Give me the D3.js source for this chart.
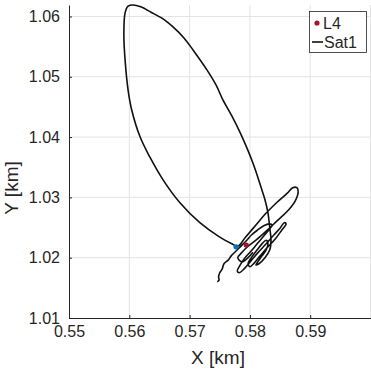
<!DOCTYPE html>
<html>
<head>
<meta charset="utf-8">
<script src="https://cdn.jsdelivr.net/npm/d3@7"></script>
<style>
    body { margin: 0; background: #fff; }
    text { font-family: "Liberation Sans", Arial, Helvetica, sans-serif; fill: #262626; }
</style>
</head>
<body>
<div id="chart"></div>
<script>
// trajectory of Sat1 (km)
let satX = [
    0.5746, 0.5749, 0.5748, 0.5750, 0.5754, 0.5757, 0.5764, 0.5769, 0.5775, 0.5784, 0.5794,
    0.5803, 0.5813, 0.5823, 0.5832, 0.5837, 0.5833, 0.5823, 0.5812, 0.5802, 0.5792,
    0.5784, 0.5779, 0.5782, 0.5790, 0.5802, 0.5813, 0.5827, 0.5840, 0.5850, 0.5857,
    0.5860, 0.5853, 0.5842, 0.5828, 0.5817, 0.5807, 0.5800, 0.5797, 0.5803, 0.5812,
    0.5820, 0.5827, 0.5830, 0.5827, 0.5820, 0.5813, 0.5810, 0.5815, 0.5825, 0.5833,
    0.5835, 0.5833, 0.5830, 0.5825, 0.5820, 0.5813, 0.5805, 0.5795, 0.5784, 0.5770,
    0.5755, 0.5744, 0.5729, 0.5706, 0.5691, 0.5672, 0.5656, 0.5636, 0.5619, 0.5606,
    0.5598, 0.5593, 0.5591, 0.5593, 0.5598, 0.5604, 0.5618, 0.5634, 0.5656, 0.5684,
    0.5717, 0.5750, 0.5770, 0.5780, 0.5792, 0.5809, 0.5827, 0.5845, 0.5862, 0.5871,
    0.5878, 0.5880, 0.5875, 0.5862, 0.5845, 0.5827, 0.5810, 0.5797, 0.5787, 0.5780,
    0.5787, 0.5797, 0.5805
];
let satY = [
    1.0160, 1.0163, 1.0168, 1.0175, 1.0181, 1.0190, 1.0196, 1.0203, 1.0209, 1.0218, 1.0228,
    1.0238, 1.0246, 1.0253, 1.0256, 1.0254, 1.0248, 1.0236, 1.0223, 1.0211, 1.0200,
    1.0188, 1.0178, 1.0175, 1.0181, 1.0195, 1.0208, 1.0223, 1.0238, 1.0249, 1.0258,
    1.0256, 1.0246, 1.0231, 1.0216, 1.0203, 1.0191, 1.0185, 1.0190, 1.0201, 1.0213,
    1.0223, 1.0229, 1.0224, 1.0213, 1.0203, 1.0193, 1.0188, 1.0190, 1.0200, 1.0213,
    1.0229, 1.0249, 1.0274, 1.0296, 1.0312, 1.0334, 1.0357, 1.0382, 1.0407, 1.0435,
    1.0462, 1.0486, 1.0511, 1.0544, 1.0564, 1.0583, 1.0596, 1.0607, 1.0616, 1.0619,
    1.0617, 1.0606, 1.0569, 1.0528, 1.0478, 1.0445, 1.0400, 1.0367, 1.0329, 1.0291,
    1.0258, 1.0234, 1.0223, 1.0219, 1.0233, 1.0253, 1.0274, 1.0292, 1.0307, 1.0316,
    1.0316, 1.0309, 1.0294, 1.0277, 1.0261, 1.0244, 1.0229, 1.0219, 1.0209, 1.0200,
    1.0193, 1.0200, 1.0209
];
let l4 = { x: 0.5794, y: 1.0221 };
let startPt = { x: 0.5777, y: 1.0218 };

let xTicks = [0.55, 0.56, 0.57, 0.58, 0.59];
let yTicks = [1.01, 1.02, 1.03, 1.04, 1.05, 1.06];
let xGrid = [0.56, 0.57, 0.58, 0.59, 0.60];
let yGrid = [1.02, 1.03, 1.04, 1.05, 1.06];

let margin = { top: 5, left: 69 };
let width = 301.5, height = 313;

let svg = d3.select("#chart").append("svg")
    .attr("width", 371)
    .attr("height", 373);

let x = d3.scaleLinear().domain([0.55, 0.60]).range([margin.left, margin.left + width]);
let y = d3.scaleLinear().domain([1.01, 1.0619]).range([margin.top + height, margin.top]);

// grid
svg.append("g").selectAll("line")
    .data(xGrid).enter().append("line")
    .attr("x1", d => x(d)).attr("x2", d => x(d))
    .attr("y1", margin.top).attr("y2", margin.top + height)
    .attr("stroke", "#e3e3e3").attr("stroke-width", 1);
svg.append("g").selectAll("line")
    .data(yGrid).enter().append("line")
    .attr("y1", d => y(d)).attr("y2", d => y(d))
    .attr("x1", margin.left).attr("x2", margin.left + width)
    .attr("stroke", "#e3e3e3").attr("stroke-width", 1);

// axes
let xAxis = svg.append("g")
    .attr("transform", `translate(0, ${margin.top + height})`)
    .call(d3.axisBottom(x).tickValues(xTicks).tickSizeInner(-3).tickSizeOuter(0).tickPadding(8).tickFormat(d3.format(".2f")));
let yAxis = svg.append("g")
    .attr("transform", `translate(${margin.left}, 0)`)
    .call(d3.axisLeft(y).tickValues(yTicks).tickSizeInner(-3).tickSizeOuter(0).tickPadding(9).tickFormat(d3.format(".2f")));

[xAxis, yAxis].forEach(a => {
    a.select(".domain").attr("stroke", "#262626");
    a.selectAll(".tick line").attr("stroke", "#262626");
    a.selectAll(".tick text").style("font-size", "16px").attr("fill", "#262626")
        .style("font-family", "'Liberation Sans', Arial, sans-serif");
});
// extend the bottom axis to the right edge
xAxis.select(".domain").attr("d", `M${margin.left},0.5H371`);

// labels
svg.append("text")
    .attr("x", 218).attr("y", 364)
    .attr("text-anchor", "middle")
    .style("font-size", "19px")
    .text("X [km]");
svg.append("text")
    .attr("transform", "translate(18, 188) rotate(-90)")
    .attr("text-anchor", "middle")
    .style("font-size", "19px")
    .text("Y [km]");

// trajectory
let pts = satX.map((d, i) => [d, satY[i]]);
let line = d3.line()
    .x(d => x(d[0]))
    .y(d => y(d[1]))
    .curve(d3.curveCatmullRom.alpha(0.5));

svg.append("path")
    .datum(pts)
    .attr("d", line)
    .attr("fill", "none")
    .attr("stroke", "#111")
    .attr("stroke-width", 1.6)
    .attr("stroke-linejoin", "round");

svg.append("circle")
    .attr("cx", x(startPt.x)).attr("cy", y(startPt.y))
    .attr("r", 2.6).attr("fill", "#0072bd");
svg.append("circle")
    .attr("cx", x(l4.x)).attr("cy", y(l4.y))
    .attr("r", 2.6).attr("fill", "#a2142f");

// legend
let lg = svg.append("g");
lg.append("rect")
    .attr("x", 309.5).attr("y", 11.5).attr("width", 57).attr("height", 41)
    .attr("fill", "#fff").attr("stroke", "#262626").attr("stroke-width", 0.8);
lg.append("circle").attr("cx", 317).attr("cy", 23).attr("r", 2.6).attr("fill", "#a2142f");
lg.append("text").attr("x", 323).attr("y", 29).style("font-size", "16px").text("L4");
lg.append("line").attr("x1", 312).attr("x2", 323).attr("y1", 42).attr("y2", 42)
    .attr("stroke", "#111").attr("stroke-width", 1.6);
lg.append("text").attr("x", 324).attr("y", 48).style("font-size", "16px").text("Sat1");
</script>
</body>
</html>
